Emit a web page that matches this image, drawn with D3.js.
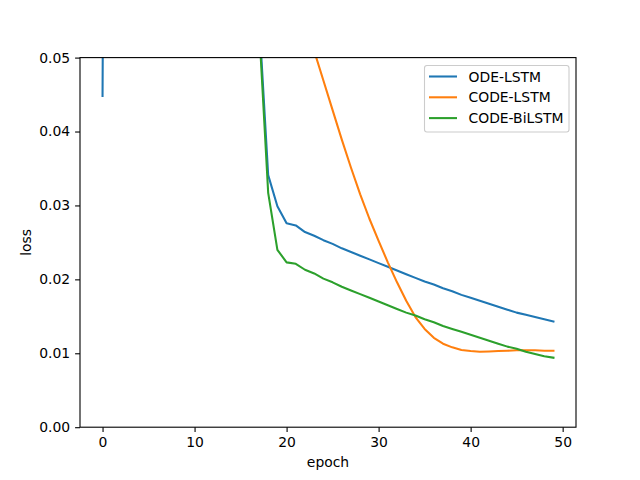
<!DOCTYPE html>
<html>
<head>
<meta charset="utf-8">
<script src="https://cdn.jsdelivr.net/npm/d3@7"></script>
<style>
  body { margin: 0; background: #fff; }
  svg { font-family: "DejaVu Sans", sans-serif; }
</style>
</head>
<body>
<svg id="chart" width="640" height="480"></svg>
<script>
// Epochs 0..49
const epochs = d3.range(0, 50);
const seriesNames = ["ODE-LSTM", "CODE-LSTM", "CODE-BiLSTM"];
const seriesColors = ["#1f77b4", "#ff7f0e", "#2ca02c"];
const xTicks = [0, 10, 20, 30, 40, 50];
const yTicks = [0, 0.01, 0.02, 0.03, 0.04, 0.05];

// values above 0.05 are outside the visible window (estimated)
const odeLstm = [0.0448, 0.30, 0.28, 0.26, 0.24, 0.22, 0.20, 0.18, 0.165, 0.15, 0.135, 0.12, 0.11, 0.10, 0.09, 0.08, 0.07, 0.0556,
  0.0341, 0.0299, 0.0276, 0.0273, 0.0264, 0.0259, 0.0253, 0.0248, 0.0242, 0.0237, 0.0232, 0.0227,
  0.0222, 0.0217, 0.0212, 0.0207, 0.0202, 0.0197, 0.0193, 0.0188, 0.0184, 0.0179,
  0.0175, 0.0171, 0.0167, 0.0163, 0.0159, 0.0155, 0.0152, 0.0149, 0.0146, 0.0143];
const codeLstm = [0.40, 0.38, 0.36, 0.34, 0.32, 0.30, 0.28, 0.26, 0.24, 0.22, 0.20, 0.18, 0.16, 0.145, 0.13, 0.115, 0.10, 0.09, 0.08, 0.072, 0.065, 0.06, 0.055, 0.0509,
  0.0469, 0.0429, 0.0389, 0.0351, 0.0315, 0.0282,
  0.0252, 0.0223, 0.0196, 0.0171, 0.0149, 0.0133, 0.0121, 0.0113, 0.0108, 0.01045,
  0.0103, 0.0102, 0.01025, 0.0103, 0.01035, 0.0104, 0.0104, 0.0104, 0.01035, 0.01035];
const codeBiLstm = [0.35, 0.32, 0.29, 0.26, 0.24, 0.22, 0.20, 0.18, 0.165, 0.15, 0.135, 0.12, 0.11, 0.10, 0.09, 0.08, 0.07, 0.0544,
  0.0317, 0.0240, 0.0223, 0.0221, 0.0213, 0.0208, 0.0201, 0.0196, 0.0190, 0.0185, 0.0180, 0.0175,
  0.0170, 0.0165, 0.0160, 0.0155, 0.0151, 0.0146, 0.0142, 0.0137, 0.0133, 0.0129,
  0.0125, 0.0121, 0.0117, 0.0113, 0.0109, 0.0106, 0.0102, 0.0099, 0.0096, 0.0094];
const allSeries = [odeLstm, codeLstm, codeBiLstm];

const mLeft = 80, mRight = 576, mTop = 57.6, mBottom = 427.2;
const svg = d3.select("#chart");

const x = d3.scaleLinear().domain([-2.45, 51.45]).range([mLeft, mRight]);
const y = d3.scaleLinear().domain([0, 0.05]).range([mBottom, mTop]);

svg.append("defs").append("clipPath").attr("id", "clip")
  .append("rect").attr("x", mLeft).attr("y", mTop).attr("width", mRight - mLeft).attr("height", mBottom - mTop);

const line = d3.line().x((d, i) => x(epochs[i])).y(d => y(d));

svg.append("g").attr("clip-path", "url(#clip)")
  .selectAll("path").data(allSeries).join("path")
  .attr("d", d => line(d))
  .attr("fill", "none")
  .attr("stroke", (d, i) => seriesColors[i])
  .attr("stroke-width", 2.08)
  .attr("stroke-linejoin", "round")
  .attr("stroke-linecap", "square");

// axes
const fs = "13.9px";
const xAxis = svg.append("g").attr("transform", `translate(0,${mBottom})`)
  .call(d3.axisBottom(x).tickValues(xTicks).tickSize(4.9).tickPadding(4.9).tickFormat(d3.format("d")));
const yAxis = svg.append("g").attr("transform", `translate(${mLeft},0)`)
  .call(d3.axisLeft(y).tickValues(yTicks).tickSize(4.9).tickPadding(4.9).tickFormat(d3.format(".2f")));
[xAxis, yAxis].forEach(a => {
  a.select(".domain").remove();
  a.selectAll("text").attr("font-size", fs).attr("font-family", "DejaVu Sans").attr("fill", "#000");
  a.selectAll("line").attr("stroke", "#000").attr("stroke-width", 1.1);
});

// frame
svg.append("rect").attr("x", mLeft).attr("y", mTop).attr("width", mRight - mLeft).attr("height", mBottom - mTop)
  .attr("fill", "none").attr("stroke", "#000").attr("stroke-width", 1.1);

// axis labels
svg.append("text").attr("x", (mLeft + mRight) / 2).attr("y", 467).attr("text-anchor", "middle")
  .attr("font-size", fs).text("epoch");
svg.append("text").attr("transform", `translate(31,${(mTop + mBottom) / 2}) rotate(-90)`)
  .attr("text-anchor", "middle").attr("font-size", fs).text("loss");

// legend
const lg = svg.append("g");
lg.append("rect").attr("x", 424.5).attr("y", 65.5).attr("width", 144.5).attr("height", 66.5)
  .attr("rx", 2.5).attr("fill", "#fff").attr("fill-opacity", 0.8)
  .attr("stroke", "#cccccc").attr("stroke-width", 1.1);
seriesNames.forEach((name, i) => {
  const yy = 76.5 + i * 20.8;
  lg.append("line").attr("x1", 429).attr("x2", 457).attr("y1", yy).attr("y2", yy)
    .attr("stroke", seriesColors[i]).attr("stroke-width", 2.08);
  lg.append("text").attr("x", 468.5).attr("y", yy + 5).attr("font-size", fs).text(name);
});
</script>
</body>
</html>
